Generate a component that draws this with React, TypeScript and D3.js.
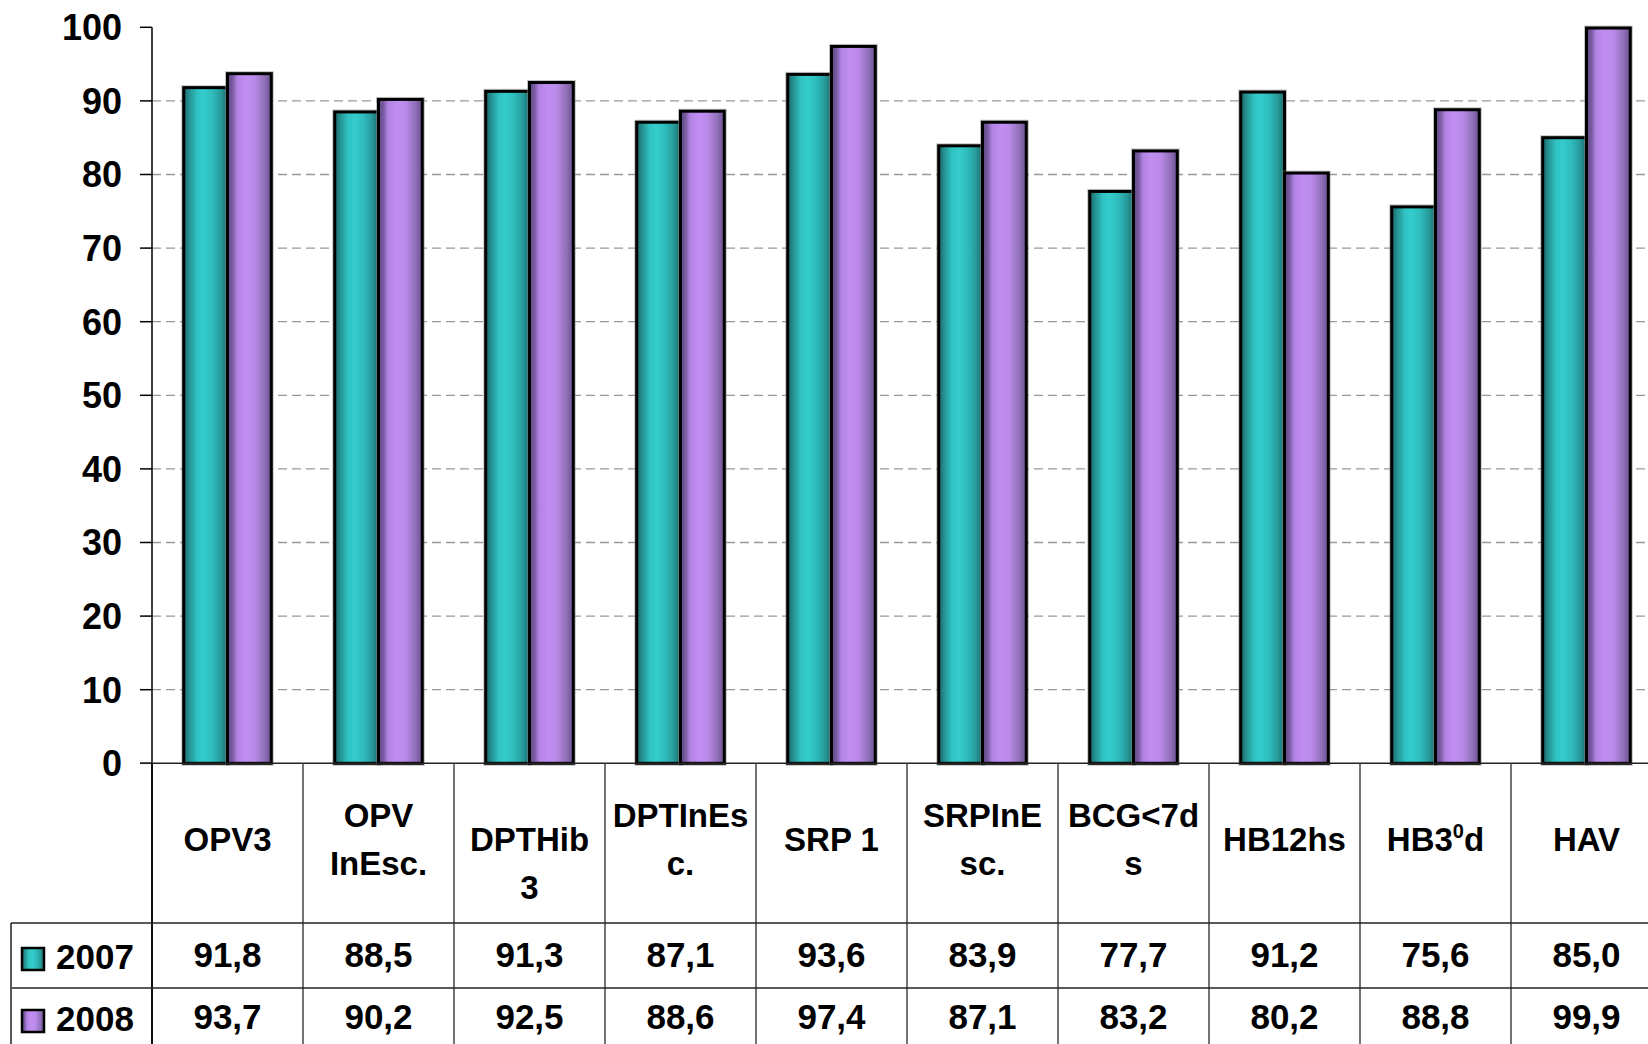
import React from "react";
import * as d3 from "d3";

const categories: string[][] = [
  ["OPV3"],
  ["OPV", "InEsc."],
  ["", "DPTHib", "3"],
  ["DPTInEs", "c."],
  ["SRP 1"],
  ["SRPInE", "sc."],
  ["BCG<7d", "s"],
  ["HB12hs"],
  ["HB3|0|d"],
  ["HAV"],
];
const series = ["2007", "2008"];
const values2007 = [91.8, 88.5, 91.3, 87.1, 93.6, 83.9, 77.7, 91.2, 75.6, 85.0];
const values2008 = [93.7, 90.2, 92.5, 88.6, 97.4, 87.1, 83.2, 80.2, 88.8, 99.9];
const yTicks = [0, 10, 20, 30, 40, 50, 60, 70, 80, 90, 100];

const W = 1648;
const H = 1044;
const FONT = "'Liberation Sans', Arial, sans-serif";

function fmt(v: number) {
  return v.toFixed(1).replace(".", ",");
}

function Label({ text, x, y }: { text: string; x: number; y: number }) {
  if (text.includes("|")) {
    const [a, sup, b] = text.split("|");
    return (
      <text x={x} y={y} textAnchor="middle">
        {a}
        <tspan fontSize={20} dy={-13}>{sup}</tspan>
        <tspan dy={13}>{b}</tspan>
      </text>
    );
  }
  return (
    <text x={x} y={y} textAnchor="middle">
      {text}
    </text>
  );
}

export default function App() {
  const keys = categories.map((_, i) => String(i));
  const left = 152;
  const colW = 151;
  const x0 = d3
    .scaleBand<string>()
    .domain(keys)
    .range([left, left + colW * keys.length])
    .padding(0);
  const bw = x0.bandwidth();
  const x1 = d3
    .scaleBand<string>()
    .domain(series)
    .range([bw * 0.21, bw * 0.79])
    .padding(0);
  const y = d3.scaleLinear().domain([0, 100]).range([763.3, 27.3]);
  const y0 = y(0);

  const data = [values2007, values2008];
  const grads = ["gTeal", "gPurple"];

  const headerTop = y0;
  const row1 = 923;
  const row2 = 988;
  const lineH = 48;
  const headerMid = 839;

  return (
    <svg
      width={W}
      height={H}
      style={{ position: "absolute", left: 0, top: 0, display: "block", background: "#fff" }}
      fontFamily={FONT}
      fontWeight="bold"
    >
      <defs>
        <linearGradient id="gTeal" x1="0" x2="1" y1="0" y2="0">
          <stop offset="0" stopColor="#1a6262" />
          <stop offset="0.1" stopColor="#23898a" />
          <stop offset="0.3" stopColor="#31c2c2" />
          <stop offset="0.45" stopColor="#34cccc" />
          <stop offset="0.65" stopColor="#2fbcbc" />
          <stop offset="0.85" stopColor="#279a9a" />
          <stop offset="1" stopColor="#1b6a6a" />
        </linearGradient>
        <linearGradient id="gPurple" x1="0" x2="1" y1="0" y2="0">
          <stop offset="0" stopColor="#5e4880" />
          <stop offset="0.12" stopColor="#7a5ca4" />
          <stop offset="0.22" stopColor="#b283e3" />
          <stop offset="0.42" stopColor="#c28df2" />
          <stop offset="0.62" stopColor="#b98ae8" />
          <stop offset="0.85" stopColor="#8f6fb6" />
          <stop offset="1" stopColor="#6a5090" />
        </linearGradient>
      </defs>

      {/* grid lines */}
      {yTicks
        .filter((t) => t > 0 && t < 100)
        .map((t) => (
          <line
            key={"g" + t}
            x1={left}
            x2={W + 20}
            y1={y(t)}
            y2={y(t)}
            stroke="#999"
            strokeWidth={1.3}
            strokeDasharray="9 5"
          />
        ))}

      {/* bars */}
      {keys.map((k, i) =>
        series.map((s, si) => {
          const v = data[si][i];
          const bx = (x0(k) as number) + (x1(s) as number);
          const by = y(v);
          return (
            <g key={k + s}>
              <rect
                x={bx}
                y={by}
                width={x1.bandwidth()}
                height={y0 - by}
                fill="none"
                stroke="#888"
                strokeOpacity={0.5}
                strokeWidth={5}
              />
              <rect
                x={bx}
                y={by}
                width={x1.bandwidth()}
                height={y0 - by}
                fill={`url(#${grads[si]})`}
                stroke="#000"
                strokeWidth={3}
              />
            </g>
          );
        })
      )}

      {/* y axis */}
      <line x1={left} x2={left} y1={y(100)} y2={H} stroke="#000" strokeWidth={1.5} />
      {yTicks.map((t) => (
        <g key={"t" + t}>
          <line x1={140} x2={left} y1={y(t)} y2={y(t)} stroke="#000" strokeWidth={1.5} />
          <text x={122} y={y(t)} dy="0.36em" textAnchor="end" fontSize={36}>
            {t}
          </text>
        </g>
      ))}

      {/* x axis / table */}
      <line x1={140} x2={W + 20} y1={y0} y2={y0} stroke="#222" strokeWidth={1.5} />
      {d3.range(keys.length + 1).map((i) => (
        <line
          key={"v" + i}
          x1={left + colW * i}
          x2={left + colW * i}
          y1={headerTop}
          y2={H}
          stroke={i === 0 ? "#000" : "#444"}
          strokeWidth={1.5}
        />
      ))}
      <line x1={11} x2={W + 20} y1={row1} y2={row1} stroke="#222" strokeWidth={1.5} />
      <line x1={12} x2={W + 20} y1={row2} y2={row2} stroke="#222" strokeWidth={1.5} />
      <line x1={11} x2={11} y1={row1} y2={H} stroke="#222" strokeWidth={1.5} />

      {/* category labels */}
      <g fontSize={33}>
        {categories.map((lines, i) => {
          const cx = (x0(String(i)) as number) + bw / 2;
          const n = lines.length;
          return lines.map((ln, j) => {
            const baseline = headerMid + (j - (n - 1) / 2) * lineH + 12;
            return <Label key={i + "-" + j} text={ln} x={cx} y={baseline} />;
          });
        })}
      </g>

      {/* legend + values rows */}
      {series.map((s, si) => {
        const base = si === 0 ? 967 : 1029;
        return (
          <g key={"row" + s}>
            <rect
              x={22}
              y={base - 19}
              width={22}
              height={22}
              fill={`url(#${grads[si]})`}
              stroke="#000"
              strokeWidth={2.5}
            />
            <text x={56} y={base + 2} fontSize={35}>
              {s}
            </text>
            {keys.map((k, i) => (
              <text
                key={k}
                x={(x0(k) as number) + bw / 2}
                y={base}
                fontSize={35}
                textAnchor="middle"
              >
                {fmt(data[si][i])}
              </text>
            ))}
          </g>
        );
      })}
    </svg>
  );
}
